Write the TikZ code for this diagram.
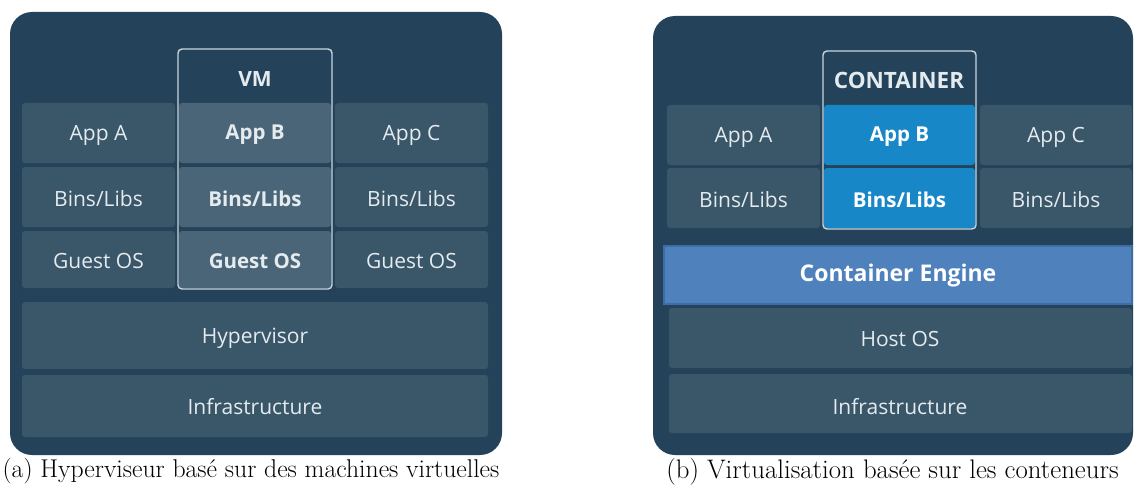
\documentclass[tikz,border=0pt]{standalone}
\usepackage{fontspec}
\newfontfamily\osans{Open Sans}
\definecolor{panel}{HTML}{24435A}
\definecolor{tilec}{HTML}{3A5669}
\definecolor{vmtile}{HTML}{4B6578}
\definecolor{txt}{HTML}{E4EBEF}
\definecolor{vmline}{HTML}{C9D6DE}
\definecolor{cblue}{HTML}{1787C8}
\definecolor{engine}{HTML}{4F81BD}
\definecolor{engline}{HTML}{3D6DA5}
\tikzset{
  panelbox/.style={fill=panel, rounded corners=22pt},
  tile/.style={fill=tilec, rounded corners=3pt, inner sep=0pt, outer sep=0pt,
    text=txt, font=\osans\fontsize{21}{24}\selectfont, anchor=center},
  vmt/.style={tile, fill=vmtile, font=\osans\bfseries\fontsize{20.5}{24}\selectfont},
  cbt/.style={tile, fill=cblue, font=\osans\bfseries\fontsize{20.5}{24}\selectfont, text=white},
  engt/.style={tile, fill=engine, draw=engline, line width=1.5pt, rounded corners=0pt,
    font=\osans\bfseries\fontsize{23}{26}\selectfont, text=white},
  frame/.style={draw=vmline, line width=1.4pt, rounded corners=4pt},
  toplbl/.style={text=txt, font=\osans\bfseries\fontsize{21}{24}\selectfont},
  captext/.style={text=black}
}
\begin{document}
\begin{tikzpicture}[x=1pt,y=-1pt]
\useasboundingbox (0,0) rectangle (1135,492);
\fill[white] (0,0) rectangle (1135,492);
% ---------- left panel ----------
\fill[panelbox] (10,12) rectangle (502,455);
\path[tile] (22,103) rectangle (175,163) node[tile,fill=none] (la) at (98.5,135) {App A};
\path[vmt] (179,103) rectangle (331,163) node[vmt,fill=none] (lb) at (255,135) {App B};
\path[tile] (335,103) rectangle (488,163) node[tile,fill=none] (lc) at (411.5,135) {App C};
\path[tile] (22,167) rectangle (175,227) node[tile,fill=none] (lbl1) at (98.5,199) {Bins/Libs};
\path[vmt] (179,167) rectangle (331,227) node[vmt,fill=none] (lbl2) at (255,199) {Bins/Libs};
\path[tile] (335,167) rectangle (488,227) node[tile,fill=none] (lbl3) at (411.5,199) {Bins/Libs};
\path[tile] (22,231) rectangle (175,288) node[tile,fill=none] (lg1) at (98.5,261) {Guest OS};
\path[vmt] (179,231) rectangle (331,288) node[vmt,fill=none] (lg2) at (255,261) {Guest OS};
\path[tile] (335,231) rectangle (488,288) node[tile,fill=none] (lg3) at (411.5,261) {Guest OS};
\path[tile] (22,302) rectangle (488,369) node[tile,fill=none] (hyp) at (255,338) {Hypervisor};
\path[tile] (22,375) rectangle (488,437) node[tile,fill=none] (linf) at (255,407) {Infrastructure};
\draw[frame] (178,49) rectangle (332,289);
\node[toplbl] (vm) at (255,79) {VM};
\node[captext, font=\fontsize{25.7}{30}\selectfont] (capa) at (251,471) {(a) Hyperviseur basé sur des machines virtuelles};
% ---------- right panel ----------
\fill[panelbox] (653,16) rectangle (1133,455);
\path[tile] (667,105) rectangle (820,165) node[tile,fill=none] (ra) at (743.5,137) {App A};
\path[cbt] (824,105) rectangle (975,165) node[cbt,fill=none] (rb) at (899.5,137) {App B};
\path[tile] (980,105) rectangle (1132,165) node[tile,fill=none] (rc) at (1056,137) {App C};
\path[tile] (667,168) rectangle (820,228) node[tile,fill=none] (rl1) at (743.5,200) {Bins/Libs};
\path[cbt] (824,168) rectangle (975,228) node[cbt,fill=none] (rl2) at (899.5,200) {Bins/Libs};
\path[tile] (980,168) rectangle (1132,228) node[tile,fill=none] (rl3) at (1056,200) {Bins/Libs};
\path[engt] (664,246) rectangle (1132,304) node[engt,draw=none,fill=none] (eng) at (898,276) {Container Engine};
\path[tile] (669,308) rectangle (1132,368) node[tile,fill=none] (host) at (900,339) {Host OS};
\path[tile] (669,374) rectangle (1132,433) node[tile,fill=none] (rinf) at (900,407) {Infrastructure};
\draw[frame] (823,51) rectangle (976,229);
\node[toplbl, font=\osans\bfseries\fontsize{22.5}{26}\selectfont] (cont) at (899,80) {CONTAINER};
\node[captext, font=\fontsize{26.8}{30}\selectfont] (capb) at (892.5,472) {(b) Virtualisation basée sur les conteneurs};
\end{tikzpicture}
\end{document}
